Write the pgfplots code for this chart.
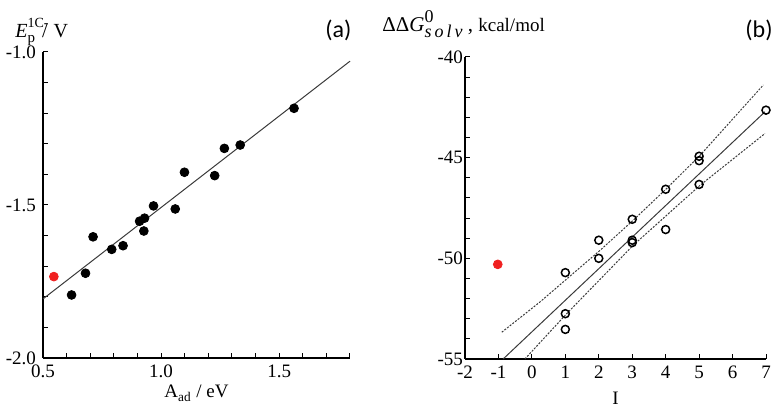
\documentclass[border=0pt]{standalone}
\usepackage{fontspec}
\setmainfont{Liberation Serif}
\newfontfamily\calib{Carlito}
\usepackage{pgfplots}
\pgfplotsset{compat=1.18}

\definecolor{fitgray}{HTML}{3A3A3A}
\definecolor{dotred}{HTML}{F02020}

\pgfplotsset{
  panel/.style={
    scale only axis,
    anchor=south west,
    axis x line*=bottom,
    axis y line*=left,
    axis line style={line width=0.6pt},
    tick align=inside,
    major tick length=2.5pt,
    minor tick length=2.5pt,
    every tick/.style={black, line width=0.5pt},
    tick label style={font=\fontsize{9.5}{11}\selectfont},
    label style={font=\fontsize{9.5}{11}\selectfont},
    /pgf/number format/assume math mode=true,
    clip=false,
  },
}

\begin{document}
\begin{tikzpicture}
\useasboundingbox (0,0) rectangle (386pt,203.5pt);

% (a)
\begin{axis}[panel,
  at={(21.5pt,24.5pt)},
  width=153.5pt, height=153pt,
  xmin=0.5, xmax=1.8, ymin=-2, ymax=-1,
  xtick={0.5,1,1.5},
  minor xtick={0.6,0.7,0.8,0.9,1.1,1.2,1.3,1.4,1.6,1.7,1.8},
  ytick={-2,-1.5,-1},
  minor ytick={-1.9,-1.8,-1.7,-1.6,-1.4,-1.3,-1.2,-1.1},
  xticklabel style={/pgf/number format/.cd, fixed, fixed zerofill, precision=1},
  yticklabel style={/pgf/number format/.cd, fixed, fixed zerofill, precision=1},
  xlabel={A\textsubscript{ad} / eV},
  xlabel style={at={(axis description cs:0.5,0)}, anchor=base, yshift=-20pt},
]
\addplot[fitgray, line width=0.5pt] coordinates {(0.5,-1.807) (1.8,-1.03)};
\addplot[only marks, mark=*, mark size=2.2pt, black] coordinates {
  (1.563,-1.184) (1.335,-1.304) (1.268,-1.315) (1.099,-1.393) (1.227,-1.404)
  (0.968,-1.503) (1.060,-1.513) (0.909,-1.553) (0.930,-1.543) (0.927,-1.585)
  (0.712,-1.604) (0.791,-1.645) (0.839,-1.633) (0.680,-1.723) (0.621,-1.794)
};
\addplot[only marks, mark=*, mark size=2.2pt, dotred] coordinates {(0.546,-1.734)};
\end{axis}

% (b)
\begin{axis}[panel,
  at={(232.5pt,24pt)},
  width=150.5pt, height=151pt,
  xmin=-2, xmax=7, ymin=-55, ymax=-40,
  xtick={-2,-1,...,7},
  ytick={-55,-50,-45,-40},
  minor ytick={-54,-53,-52,-51,-49,-48,-47,-46,-44,-43,-42,-41},
  yticklabel style={xshift=2.5pt},
  xlabel={I},
  xlabel style={at={(axis description cs:0.5,0)}, anchor=base, yshift=-23pt},
]
\addplot[fitgray, line width=0.5pt, dash pattern=on 1pt off 0.7pt] coordinates {
  (-0.90,-53.67) (0.24,-52.17) (2.04,-49.6) (3.03,-48.11) (4.03,-46.53) (5.03,-44.88) (6.92,-41.39)
};
\addplot[fitgray, line width=0.5pt, dash pattern=on 1pt off 0.7pt] coordinates {
  (-0.21,-55.0) (1.04,-52.75) (3.03,-49.35) (5.03,-46.37) (6.97,-43.8)
};
\addplot[fitgray, line width=0.5pt] coordinates {(-0.86,-55) (6.97,-42.72)};
\addplot[only marks, mark=o, mark size=2pt, black, line width=0.75pt, fill=white] coordinates {
  (7,-42.64) (5,-44.93) (5,-45.15) (5,-46.33) (4,-46.57) (3,-48.06) (3,-49.1) (3,-49.22)
  (4,-48.57) (2,-49.1) (2,-50.0) (1,-50.71) (1,-52.75) (1,-53.53)
};
\addplot[only marks, mark=*, mark size=2.2pt, dotred] coordinates {(-1.02,-50.3)};
\end{axis}

\node[anchor=base west, inner sep=0, font=\fontsize{10}{12}\selectfont] at (7.5pt,184.5pt)
  {\textit{E}\rlap{\raisebox{1.15ex}{\fontsize{7}{8}\selectfont 1C-}}\raisebox{-0.45ex}{\fontsize{7.5}{9}\selectfont p}\hspace{3.5pt}/\hspace{3pt}V};
\node[anchor=base west, inner sep=0, font=\fontsize{10.5}{12}\selectfont] at (191pt,187.5pt)
  {ΔΔ\textit{G}\rlap{\raisebox{1.0ex}{\fontsize{9}{10}\selectfont 0}}\raisebox{-0.55ex}{\fontsize{9}{10}\selectfont\itshape s\,o\,l\,v} , {\fontsize{9.5}{11}\selectfont kcal/mol}};
\node[anchor=base west, inner sep=0, font=\calib\fontsize{12}{14}\selectfont] at (162.5pt,184.5pt) {(a)};
\node[anchor=base west, inner sep=0, font=\calib\fontsize{12}{14}\selectfont] at (372.5pt,184.5pt) {(b)};
\end{tikzpicture}
\end{document}
